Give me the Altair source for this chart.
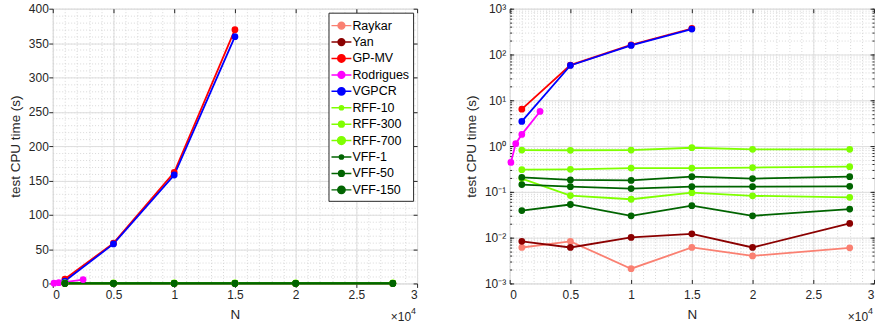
import altair as alt
import pandas as pd

# ---- data -------------------------------------------------------------
SERIES = ["Raykar", "Yan", "GP-MV", "Rodrigues", "VGPCR",
          "RFF-10", "RFF-300", "RFF-700", "VFF-1", "VFF-50", "VFF-150"]

N_FULL = [1000, 5000, 10000, 15000, 20000, 28000]
N_GP = [1000, 5000, 10000, 15000]
N_ROD = [100, 500, 1000, 2500]

raykar = [0.0061, 0.0083, 0.0021, 0.0061, 0.0040, 0.0060]
yan = [0.0083, 0.0061, 0.0101, 0.0121, 0.0061, 0.0204]
gp_mv = [6.4, 58.6, 161.7, 369.5]
rodrigues = [0.44, 1.13, 1.8, 5.7]
vgpcr = [3.45, 57.6, 157.9, 359.3]
rff_10 = [0.195, 0.083, 0.069, 0.096, 0.082, 0.076]
rff_300 = [0.305, 0.31, 0.33, 0.33, 0.34, 0.355]
rff_700 = [0.82, 0.81, 0.82, 0.92, 0.85, 0.85]
vff_1 = [0.039, 0.053, 0.030, 0.050, 0.030, 0.042]
vff_50 = [0.144, 0.130, 0.118, 0.130, 0.130, 0.132]
vff_150 = [0.208, 0.182, 0.178, 0.215, 0.195, 0.215]

values = {
    "Raykar": (N_FULL, raykar), "Yan": (N_FULL, yan),
    "GP-MV": (N_GP, gp_mv), "Rodrigues": (N_ROD, rodrigues),
    "VGPCR": (N_GP, vgpcr),
    "RFF-10": (N_FULL, rff_10), "RFF-300": (N_FULL, rff_300),
    "RFF-700": (N_FULL, rff_700),
    "VFF-1": (N_FULL, vff_1), "VFF-50": (N_FULL, vff_50),
    "VFF-150": (N_FULL, vff_150),
}

rows = []
for s in SERIES:
    ns, ts = values[s]
    for n, t in zip(ns, ts):
        rows.append({"series": s, "N": n, "time": t})
df = pd.DataFrame(rows)

# ---- styling ----------------------------------------------------------
COLORS = ["#FA8072", "#8B0000", "#FF0000", "#FF00FF", "#0000FF",
          "#7FFF00", "#7FFF00", "#7FFF00", "#006400", "#006400", "#006400"]
MARKER_D = [6.8, 6.8, 7.4, 6.8, 7.4, 4.2, 5.8, 7.8, 4.2, 5.8, 7.4]
LINE_W = [1.8, 1.8, 2.0, 1.6, 2.0, 1.0, 1.5, 2.2, 1.0, 1.4, 2.2]

AXIS_COLOR = "#262626"
FONT = "Liberation Sans"
W, H = 366, 276

# legend glyph: a 20 px line with a marker, in units of 8 px (symbol size 256)
GLYPH_UNIT = 8.0


def glyph(d):
    r = round(d / 2.0 / GLYPH_UNIT, 3)
    return (f"M-1.25,0L1.25,0M{r},0A{r},{r},0,1,1,{-r},0"
            f"A{r},{r},0,1,1,{r},0Z")


def js_list(items):
    return "[" + ",".join(repr(i) if isinstance(i, str) else str(i) for i in items) + "]"


IDX = f"indexof({js_list(SERIES)}, datum.value)"
SYMBOL_SHAPE = {"expr": f"{js_list([glyph(d) for d in MARKER_D])}[{IDX}]"}
SYMBOL_COLOR = {"expr": f"{js_list(COLORS)}[{IDX}]"}

x_major = list(range(0, 30001, 5000))
x_minor = list(range(0, 30001, 1000))
lin_major = list(range(0, 401, 50))
lin_minor = list(range(0, 401, 10))
log_major = [10.0 ** k for k in range(-3, 4)]
log_minor = [m * 10.0 ** k for k in range(-3, 3) for m in range(1, 10)] + [1000.0]

LOG_LABELS = ["10\u207b\u00b3", "10\u207b\u00b2", "10\u207b\u00b9", "10\u2070",
              "10\u00b9", "10\u00b2", "10\u00b3"]


def tick_axis(orient, vals, size):
    """An axis that only draws short ticks pointing into the box."""
    return alt.Axis(orient=orient, values=vals, grid=False, labels=False,
                    ticks=True, tickSize=size, offset=-size,
                    tickColor=AXIS_COLOR, domain=False, title=None)


def panel(log, show_legend):
    base = alt.Chart(df)
    xs = alt.Scale(domain=[0, 30000], nice=False, zero=False)
    if log:
        ys = alt.Scale(type="log", domain=[0.001, 1000], nice=False)
        y_major, y_minor = log_major, log_minor
        y_label_expr = f"{js_list(LOG_LABELS)}[round(log(datum.value)/LN10) + 3]"
        out_tick = 0
    else:
        ys = alt.Scale(domain=[0, 400], nice=False)
        y_major, y_minor = lin_major, lin_minor
        y_label_expr = "datum.label"
        out_tick = 4

    if show_legend:
        legend = alt.Legend(
            title=None, orient="top-right", offset=4,
            symbolSize=GLYPH_UNIT * GLYPH_UNIT * 4, symbolType=SYMBOL_SHAPE,
            symbolStrokeWidth=1.5,
            symbolFillColor=SYMBOL_COLOR, symbolStrokeColor=SYMBOL_COLOR,
            symbolOpacity=1, labelOffset=2, rowPadding=0.5,
            padding=4, strokeColor=AXIS_COLOR, fillColor="white",
            labelFont=FONT, labelFontSize=12.5, labelColor="black",
        )
    else:
        legend = None

    color = alt.Color("series:N", scale=alt.Scale(domain=SERIES, range=COLORS),
                      legend=legend)

    # dotted minor grid
    minor = base.mark_point(opacity=0).encode(
        x=alt.X("N:Q", scale=xs, axis=alt.Axis(
            orient="bottom", values=x_minor, grid=True, gridDash=[1, 2],
            gridColor="#cfcfcf", gridWidth=0.8, labels=False, ticks=False,
            domain=False, title=None)),
        y=alt.Y("time:Q", scale=ys, axis=alt.Axis(
            orient="left", values=y_minor, grid=True, gridDash=[1, 2],
            gridColor="#cfcfcf", gridWidth=0.8, labels=False, ticks=False,
            domain=False, title=None)),
    )

    lines = base.mark_line().encode(
        x=alt.X("N:Q", scale=xs, axis=alt.Axis(
            orient="bottom", values=x_major, grid=True, gridColor="#dedede",
            gridWidth=1, labelExpr="'' + (datum.value / 10000)", labelFont=FONT,
            labelFontSize=12, labelColor=AXIS_COLOR,
            labelPadding=2 if out_tick else 6,
            ticks=bool(out_tick), tickSize=max(out_tick, 1), tickColor=AXIS_COLOR,
            domain=False, title="N", titleFont=FONT, titleFontSize=13.5,
            titleFontWeight="normal", titleColor=AXIS_COLOR, titlePadding=7)),
        y=alt.Y("time:Q", scale=ys, axis=alt.Axis(
            orient="left", values=y_major, grid=True, gridColor="#dedede",
            gridWidth=1, labelExpr=y_label_expr, labelFont=FONT, labelFontSize=12,
            labelColor=AXIS_COLOR, labelPadding=0.5 if out_tick else 4,
            ticks=bool(out_tick), tickSize=max(out_tick, 1), tickColor=AXIS_COLOR,
            domain=False, title="test CPU time (s)", titleFont=FONT,
            titleFontSize=13.5, titleFontWeight="normal",
            titleColor=AXIS_COLOR, titlePadding=5.5)),
        color=color,
        strokeWidth=alt.StrokeWidth("series:N", scale=alt.Scale(domain=SERIES, range=LINE_W), legend=None),
        detail="series:N",
    )

    points = base.mark_point(filled=True, opacity=1, strokeWidth=0).encode(
        x=alt.X("N:Q", scale=xs, axis=None),
        y=alt.Y("time:Q", scale=ys, axis=None),
        color=color,
        size=alt.Size("series:N", scale=alt.Scale(domain=SERIES, range=[d * d for d in MARKER_D]), legend=None),
    )

    # inward ticks on the top and right edges of the box
    layers = [minor, lines, points]
    layers.append(base.mark_point(opacity=0).encode(
        x=alt.X("N:Q", scale=xs, axis=tick_axis("top", x_major, 4)),
        y=alt.Y("time:Q", scale=ys, axis=tick_axis("right", y_major, 4)),
    ))
    if log:
        # inward ticks on the bottom and left edges, plus minor decade ticks
        layers.append(base.mark_point(opacity=0).encode(
            x=alt.X("N:Q", scale=xs, axis=tick_axis("bottom", x_major, 4)),
            y=alt.Y("time:Q", scale=ys, axis=tick_axis("left", y_major, 4)),
        ))
        layers.append(base.mark_point(opacity=0).encode(
            x=alt.X("N:Q", scale=xs, axis=None),
            y=alt.Y("time:Q", scale=ys, axis=tick_axis("left", y_minor, 2)),
        ))
        layers.append(base.mark_point(opacity=0).encode(
            x=alt.X("N:Q", scale=xs, axis=None),
            y=alt.Y("time:Q", scale=ys, axis=tick_axis("right", y_minor, 2)),
        ))

    note = pd.DataFrame({"t": ["\u00d710"], "e": ["4"]})
    layers.append(alt.Chart(note).mark_text(
        align="right", baseline="middle", font=FONT, fontSize=12, color=AXIS_COLOR
    ).encode(x=alt.value(W - 6), y=alt.value(H + 34), text="t:N"))
    layers.append(alt.Chart(note).mark_text(
        align="left", baseline="middle", font=FONT, fontSize=9, color=AXIS_COLOR
    ).encode(x=alt.value(W - 6), y=alt.value(H + 28), text="e:N"))

    return alt.layer(*layers).resolve_axis(
        x="independent", y="independent"
    ).properties(width=W, height=H)


chart = alt.hconcat(
    panel(log=False, show_legend=True),
    panel(log=True, show_legend=False),
    spacing=46,
).resolve_scale(color="independent").properties(
    padding={"left": 8, "top": 1, "right": 0, "bottom": 0}
).configure_view(
    stroke=AXIS_COLOR, strokeWidth=1
).configure(background="white")

chart.save("out.html", embed_options={"renderer": "svg", "actions": False})
